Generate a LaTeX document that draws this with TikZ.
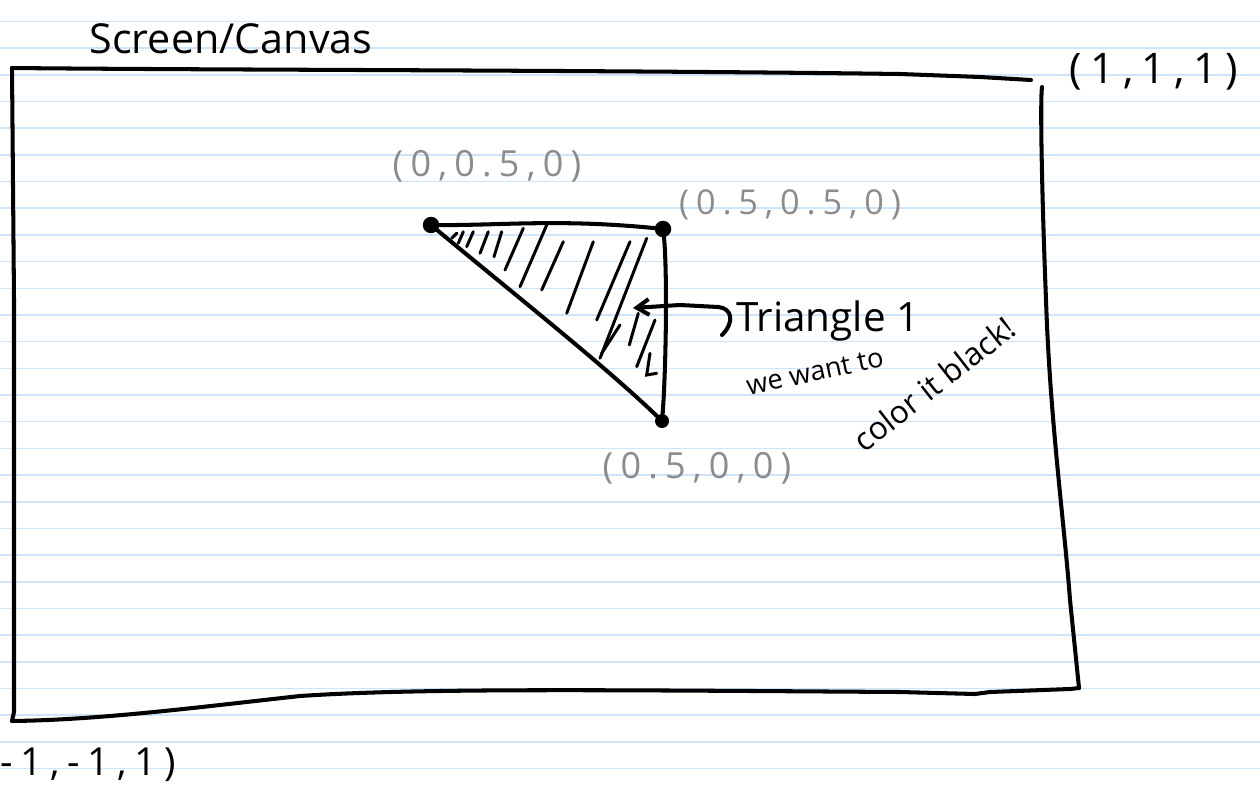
\documentclass[tikz,border=0pt]{standalone}
\usepackage{fontspec}
\setmainfont{Open Sans}
\newfontfamily\handfont[LetterSpace=20]{Open Sans}
\usetikzlibrary{arrows.meta}
\definecolor{paperline}{HTML}{CFE5F7}
\definecolor{pencilgray}{HTML}{8C8C8C}
\begin{document}
\begin{tikzpicture}[x=0.02cm,y=-0.02cm,
  pen/.style={line width=2.3pt,line cap=round,line join=round,black},
  hatchline/.style={line width=1.7pt,line cap=round,black},
  paper/.style={line width=0.9pt,paperline},
  vertexdot/.style={circle,fill=black,inner sep=0pt,minimum size=0.33cm},
  coordlabel/.style={text=pencilgray,inner sep=0pt},
  inklabel/.style={text=black,inner sep=0pt}
]
\fill[white] (0,0) rectangle (1260,790);
\useasboundingbox (0,0) rectangle (1260,790);
% ruled paper
\foreach \i in {0,...,28}{
  \draw[paper] (0,21.5+26.68*\i) -- (1260,21.5+26.68*\i);
}
% title
\node[inklabel,font=\fontsize{23.5}{28}\selectfont] (title) at (231,39) {Screen/Canvas};
% canvas rectangle corners
\coordinate (tl) at (12,68);
\coordinate (tr) at (1031,80);
\coordinate (rt) at (1042,87);
\coordinate (br) at (1079,688);
\coordinate (bl) at (12,721);
\draw[pen] (tl) .. controls (200,70) and (600,70) .. (900,74) -- (980,77) -- (tr);
\draw[pen] (rt) .. controls (1040,100) and (1042,200) .. (1046,300)
  .. controls (1050,420) and (1064,520) .. (1070,600) -- (br);
\draw[pen] (br) -- (1070,689) -- (990,692) -- (975,694) -- (900,692)
  .. controls (600,690) and (420,688) .. (300,696)
  .. controls (200,707) and (100,720) .. (bl);
\draw[pen] (bl) -- (14,712) -- (14,300) -- (tl);
% corner labels
\node[inklabel,font=\handfont\fontsize{24}{28}\selectfont] (ptop) at (1154,72) {(1,1,1)};
\node[inklabel,font=\handfont\fontsize{22}{26}\selectfont,anchor=west] (pbot) at (0,765) {-1,-1,1)};
% triangle vertices
\node[vertexdot] (A) at (431,225) {};
\node[vertexdot] (B) at (663,229) {};
\node[vertexdot,minimum size=0.28cm] (C) at (662,421) {};
% triangle edges
\draw[pen] (A.center) .. controls (500,226) and (560,218) .. (B.center);
\draw[pen] (B.center) .. controls (668,260) and (666,380) .. (C.center);
\draw[pen] (A.center) .. controls (520,299) and (610,370) .. (C.center);
% hatching
\foreach \xa/\ya/\xb/\yb in {
  456.7/233.3/451.7/238.3,
  463.3/231.7/458.3/243.3,
  473.3/231.7/466.7/246.7,
  488.3/231.7/480/253.3,
  501.7/231.7/494/256.7,
  523.3/228.3/505/270,
  546.7/225/520/286.7,
  563.3/241.7/541.7/290,
  593.3/241.7/566.7/313.3,
  630/241.7/596.7/320,
  646.7/238.3/600/358.3,
  620/325/601.7/353.3,
  638.3/313.3/629.3/345,
  655/320/636.7/366.7}{
  \draw[hatchline] (\xa,\ya) -- (\xb,\yb);
}
\draw[hatchline] (650,353.3) -- (646.7,375) -- (656.7,373.3);
% vertex labels
\node[coordlabel,font=\handfont\fontsize{20.5}{24}\selectfont] (la) at (487,166) {(0,0.5,0)};
\node[coordlabel,font=\handfont\fontsize{19.5}{23}\selectfont] (lb) at (790,205) {(0.5,0.5,0)};
\node[coordlabel,font=\handfont\fontsize{20.5}{24}\selectfont] (lc) at (697,468) {(0.5,0,0)};
% annotation
\node[inklabel,font=\fontsize{23}{27}\selectfont,anchor=west] (tri) at (736,321) {Triangle 1};
\node[inklabel,font=\fontsize{15.5}{18}\selectfont,rotate=12] (want) at (815,372) {we want to};
\node[inklabel,font=\fontsize{18}{21}\selectfont,rotate=38] (black) at (934,384) {color it black!};
\coordinate (tip) at (633,308);
\draw[pen,-{Straight Barb[length=7pt,width=9pt]}] (tri.west) ++(-14,14)
  .. controls (735,322) and (732,308) .. (718,307) -- (680,305) -- (tip);
\end{tikzpicture}
\end{document}
